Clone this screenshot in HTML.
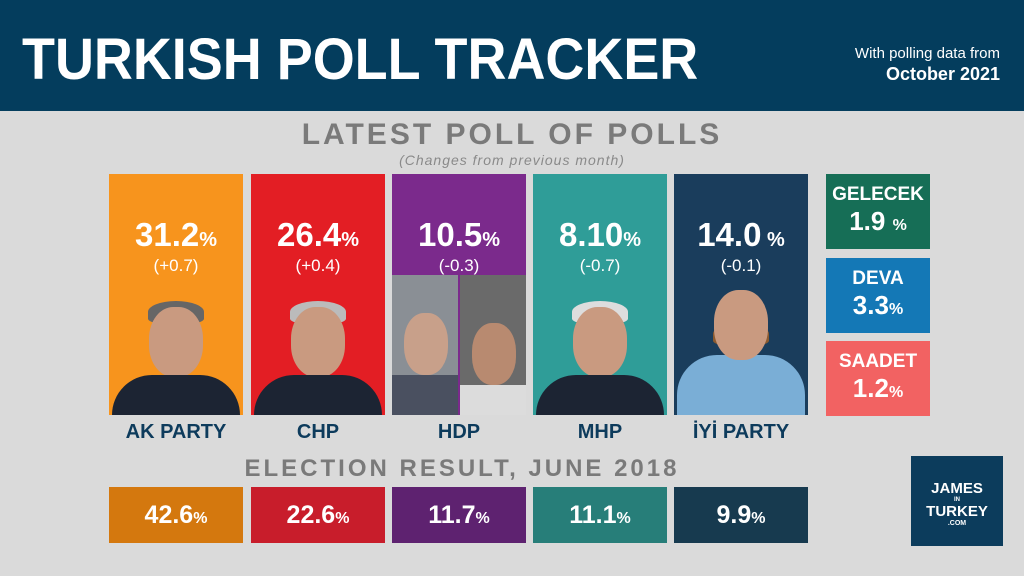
<!DOCTYPE html>
<html><head><style>
*{margin:0;padding:0;box-sizing:border-box}
body{width:1024px;height:576px;background:#dadada;font-family:"Liberation Sans",sans-serif;position:relative;overflow:hidden}
.hdr{position:absolute;left:0;top:0;width:1024px;height:111px;background:#043d5d}
.title{position:absolute;left:22px;top:26px;color:#fff;font-size:58px;font-weight:bold;letter-spacing:0px;transform:scaleX(0.93);transform-origin:left}
.sub{position:absolute;right:24px;top:44px;color:#fff;text-align:right;font-size:15px;line-height:20px}
.sub b{font-size:18px}
.h2{position:absolute;width:100%;text-align:center;color:#7a7a7a;font-weight:bold;letter-spacing:3px}
.p{position:absolute;top:174px;width:134px;height:241px;overflow:hidden;color:#fff;text-align:center}
.p .v{margin-top:42px;font-size:33px;font-weight:bold}
.p .v small{font-size:20px}
.p .c{font-size:17px;margin-top:2px}
.body{position:absolute;bottom:0;left:50%;transform:translateX(-50%);width:128px;height:40px;background:#1c2433;border-radius:40px 40px 0 0}
.head{position:absolute;bottom:38px;left:50%;transform:translateX(-50%);width:54px;height:70px;background:#c99a80;border-radius:45%}
.hair{position:absolute;bottom:92px;left:50%;transform:translateX(-50%);width:56px;height:22px;background:#bbb;border-radius:50% 50% 20% 20%}
.lab{position:absolute;top:421px;width:134px;text-align:center;color:#0d3b5c;font-weight:bold;font-size:20px}
.s{position:absolute;left:826px;width:104px;height:75px;color:#fff;text-align:center;font-weight:bold}
.s .n{font-size:19px;margin-top:10px}
.s .q{font-size:26px}
.s .q small{font-size:16px}
.e{position:absolute;top:487px;width:134px;height:56px;color:#fff;text-align:center;font-weight:bold;font-size:25px;line-height:56px}
.e small{font-size:16px}
.logo{position:absolute;left:911px;top:456px;width:92px;height:90px;background:#0c3c5c;color:#fff;text-align:center;font-weight:bold}
</style></head><body>
<div class="hdr"><div class="title">TURKISH POLL TRACKER</div>
<div class="sub">With polling data from<br><b>October 2021</b></div></div>
<div class="h2" style="top:118px;font-size:30px;left:0">LATEST POLL OF POLLS</div>
<div style="position:absolute;top:152px;width:100%;text-align:center;color:#8a8a8a;font-style:italic;font-size:14px;letter-spacing:1px">(Changes from previous month)</div>

<div class="p" style="left:109px;background:#f7941d"><div class="v">31.2<small>%</small></div><div class="c">(+0.7)</div><div class="hair" style="background:#666"></div><div class="head"></div><div class="body"></div></div>
<div class="p" style="left:251px;background:#e31e24"><div class="v">26.4<small>%</small></div><div class="c">(+0.4)</div><div class="hair"></div><div class="head"></div><div class="body"></div></div>
<div class="p" style="left:392px;background:#7b2a8c"><div class="v">10.5<small>%</small></div><div class="c">(-0.3)</div>
<div style="position:absolute;left:0;bottom:0;width:66px;height:140px;background:#8a8f95"></div>
<div style="position:absolute;left:68px;bottom:0;width:66px;height:140px;background:#6a6a6a"></div>
<div style="position:absolute;left:12px;bottom:40px;width:44px;height:62px;background:#c8a08a;border-radius:45%"></div>
<div style="position:absolute;left:80px;bottom:30px;width:44px;height:62px;background:#b88a70;border-radius:45%"></div>
<div style="position:absolute;left:0;bottom:0;width:66px;height:40px;background:#4a5060"></div>
<div style="position:absolute;left:68px;bottom:0;width:66px;height:30px;background:#dcdcdc"></div></div>
<div class="p" style="left:533px;background:#2f9d98"><div class="v">8.10<small>%</small></div><div class="c">(-0.7)</div><div class="hair" style="background:#ddd"></div><div class="head"></div><div class="body"></div></div>
<div class="p" style="left:674px;background:#1a3d5c"><div class="v">14.0<small> %</small></div><div class="c">(-0.1)</div><div class="body" style="background:#7aaed6;height:60px"></div><div class="hair" style="background:#8a5a30;bottom:70px"></div><div class="head" style="bottom:55px"></div></div>

<div class="lab" style="left:109px">AK PARTY</div>
<div class="lab" style="left:251px">CHP</div>
<div class="lab" style="left:392px">HDP</div>
<div class="lab" style="left:533px">MHP</div>
<div class="lab" style="left:674px">İYİ PARTY</div>

<div class="s" style="top:174px;background:#166e56"><div class="n">GELECEK</div><div class="q">1.9 <small>%</small></div></div>
<div class="s" style="top:258px;background:#1478b6"><div class="n">DEVA</div><div class="q">3.3<small>%</small></div></div>
<div class="s" style="top:341px;background:#f26262"><div class="n">SAADET</div><div class="q">1.2<small>%</small></div></div>

<div class="h2" style="top:455px;font-size:24px;left:-50px">ELECTION RESULT, JUNE 2018</div>
<div class="e" style="left:109px;background:#d4780e">42.6<small>%</small></div>
<div class="e" style="left:251px;background:#c81d2b">22.6<small>%</small></div>
<div class="e" style="left:392px;background:#5e2270">11.7<small>%</small></div>
<div class="e" style="left:533px;background:#277e79">11.1<small>%</small></div>
<div class="e" style="left:674px;background:#173a4f">9.9<small>%</small></div>

<div class="logo"><div style="margin-top:24px;font-size:15px">JAMES</div><div style="font-size:6px">IN</div><div style="font-size:15px">TURKEY</div><div style="font-size:7px">.COM</div></div>
</body></html>
